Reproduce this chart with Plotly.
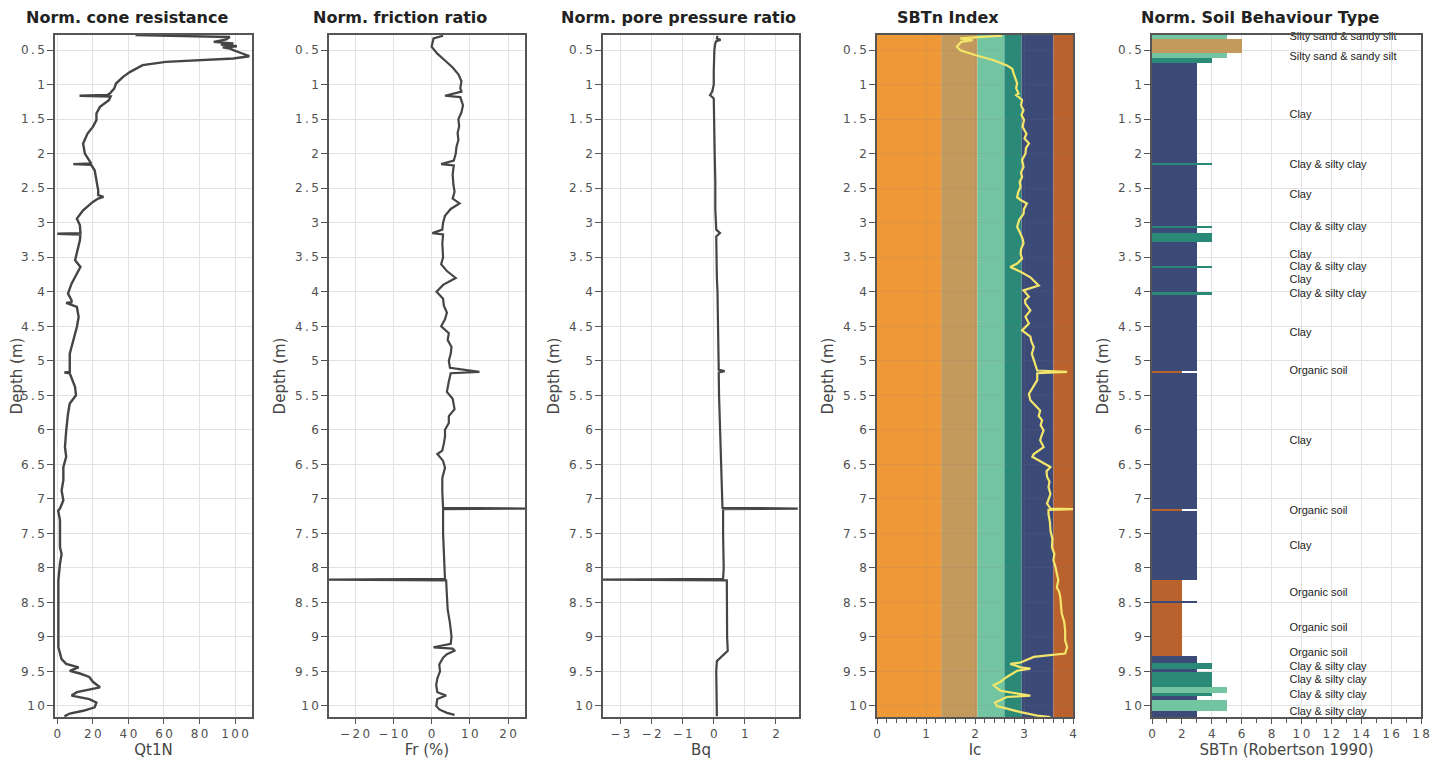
import plotly.graph_objects as go

# page body has an 8px default margin, so the figure is sized to fit the window
OFF = 8
FW, FH = 1447 - OFF, 766 - OFF

# ---------------- data ----------------
qt_depth = [0.28, 0.31, 0.345, 0.38, 0.403, 0.42, 0.442, 0.46, 0.476, 0.5, 0.548, 0.587, 0.621, 0.645,
            0.669, 0.717, 0.766, 0.814, 0.886, 0.983, 1.056, 1.128, 1.15, 1.16, 1.17, 1.225, 1.321, 1.418,
            1.514, 1.611, 1.708, 1.853, 1.998, 2.094, 2.14, 2.15, 2.16, 2.239, 2.384, 2.529, 2.60, 2.626,
            2.65, 2.698, 2.819, 2.94, 3.036, 3.15, 3.16, 3.17, 3.254, 3.447, 3.543, 3.64, 3.737, 3.882,
            4.027, 4.123, 4.15, 4.16, 4.22, 4.365, 4.51, 4.703, 4.896, 5.089, 5.16, 5.17, 5.18, 5.38,
            5.50, 5.62, 5.77, 6.01, 6.25, 6.39, 6.54, 6.73, 6.88, 7.02, 7.14, 7.17, 7.31, 7.70, 7.80,
            7.94, 8.18, 8.66, 9.05, 9.15, 9.32, 9.39, 9.44, 9.49, 9.53, 9.58, 9.65, 9.73, 9.80, 9.85,
            9.90, 9.95, 10.02, 10.07, 10.11, 10.15]
qt_value = [44, 97, 95, 88, 99, 92, 101, 93, 97, 99, 104, 108, 99, 80,
            61, 48, 44, 41, 37, 33, 32, 29.5, 28, 12.5, 30, 29, 24, 22,
            22, 20, 17, 14.5, 15.5, 18, 19, 9, 19, 21, 22, 23, 23, 26,
            23, 20, 14.5, 11, 12.7, 13, 0, 13, 12.7, 11, 10, 13, 11, 8,
            6, 8, 8, 5, 11, 12, 11, 9, 7, 7, 7, 4, 7, 10,
            10.5, 7, 6, 5, 4.3, 5, 3.4, 3.4, 2.4, 3.4, 1.5, 0.5, 1.5, 1.5, 2.4,
            1.5, 0.6, 0.6, 0.3, 0.6, 2.4, 5, 12, 7, 12.7, 18, 20, 24, 11, 8,
            18, 22, 21, 14.6, 7, 4]

fr_depth = [0.29, 0.33, 0.45, 0.55, 0.65, 0.75, 0.85, 0.95, 1.05, 1.1, 1.16, 1.18, 1.3, 1.4, 1.5, 1.6,
            1.7, 1.8, 1.9, 2.0, 2.1, 2.15, 2.17, 2.3, 2.45, 2.55, 2.65, 2.72, 2.8, 2.9, 3.0, 3.1, 3.15,
            3.17, 3.3, 3.5, 3.6, 3.7, 3.8, 3.9, 4.0, 4.1, 4.2, 4.3, 4.4, 4.5, 4.6, 4.7, 4.8, 4.9, 5.0,
            5.1, 5.16, 5.18, 5.3, 5.45, 5.55, 5.7, 5.8, 5.9, 6.0, 6.1, 6.2, 6.3, 6.35, 6.45, 6.55, 6.7,
            6.9, 7.13, 7.14, 7.15, 7.5, 7.8, 8.0, 8.16, 8.17, 8.18, 8.4, 8.6, 8.8, 9.0, 9.1, 9.15, 9.17,
            9.2, 9.25, 9.3, 9.4, 9.5, 9.6, 9.7, 9.8, 9.85, 9.9, 10.0, 10.05, 10.1, 10.13]
fr_value = [3, 0.5, 0, 1.5, 3.5, 5.5, 7, 7.8, 7.5, 7.8, 3.5, 7.5, 8.2, 7.8, 7, 7.2,
            6.8, 7, 6.5, 6.3, 5.8, 2.5, 5.8, 5.5, 5.7, 6, 5.5, 7.3, 5, 3.5, 3, 2.8, 0.2,
            3, 2.8, 3, 2.5, 4, 6.3, 3, 1.3, 3, 3.2, 4, 3.5, 2.5, 4.5, 4.2, 5.2, 5, 4.5,
            4.8, 12.5, 5, 4.5, 4, 5.5, 6, 4.5, 4.5, 3.5, 3.5, 3.2, 2.8, 1.5, 3.0, 3.5, 2.8,
            2.8, 3.0, 24.5, 3, 3.0, 3.2, 3.3, 3.5, -27, 3.8, 4, 4.2, 4.8, 5.2, 5, 0.5, 5.5,
            6.0, 4, 3.0, 2.0, 2.2, 1.5, 1.2, 1.5, 3.8, 1.5, 1.2, 2.0, 4.0, 6.0]

bq_depth = [0.29, 0.33, 0.35, 0.37, 0.4, 0.5, 0.8, 1.0, 1.1, 1.15, 1.2, 1.5, 2.0, 2.4, 2.8, 3.1, 3.15,
            3.2, 3.6, 3.8, 4.0, 4.5, 5.0, 5.13, 5.15, 5.17, 5.5, 6.0, 6.3, 6.5, 7.0, 7.13, 7.14, 7.15,
            7.5, 8.0, 8.16, 8.17, 8.18, 8.5, 9.0, 9.2, 9.3, 9.35, 9.5, 10.0, 10.15]
bq_value = [0.12, 0.1, 0.22, 0.08, 0.05, 0.02, 0.0, 0.0, -0.05, -0.12, 0.0, 0.02, 0.03, 0.05, 0.05, 0.08, 0.2,
            0.08, 0.08, 0.1, 0.12, 0.14, 0.16, 0.16, 0.35, 0.16, 0.17, 0.2, 0.22, 0.25, 0.28, 0.28, 2.7, 0.3,
            0.3, 0.32, 0.3, -3.6, 0.42, 0.42, 0.43, 0.45, 0.2, 0.1, 0.08, 0.08, 0.1]

ic_depth = [0.29, 0.33, 0.355, 0.38, 0.45, 0.5, 0.57, 0.645, 0.72, 0.77, 0.84, 0.91, 0.98, 1.05, 1.13,
            1.15, 1.22, 1.30, 1.37, 1.44, 1.51, 1.61, 1.71, 1.78, 1.85, 1.92, 2.0, 2.09, 2.19, 2.27, 2.34,
            2.41, 2.48, 2.56, 2.63, 2.67, 2.72, 2.80, 2.87, 2.96, 3.06, 3.16, 3.23, 3.30, 3.38, 3.45,
            3.52, 3.59, 3.64, 3.71, 3.79, 3.91, 3.98, 4.07, 4.12, 4.17, 4.22, 4.27, 4.36, 4.46, 4.56,
            4.65, 4.72, 4.80, 4.90, 4.99, 5.07, 5.14, 5.16, 5.18, 5.28, 5.38, 5.48, 5.57, 5.64, 5.72,
            5.80, 5.86, 5.93, 6.01, 6.08, 6.15, 6.25, 6.35, 6.39, 6.49, 6.54, 6.60, 6.68, 6.75, 6.83,
            6.93, 7.00, 7.07, 7.14, 7.15, 7.16, 7.22, 7.34, 7.46, 7.58, 7.70, 7.80, 7.89, 7.98, 8.08,
            8.18, 8.28, 8.35, 8.42, 8.54, 8.66, 8.78, 8.91, 9.05, 9.15, 9.24, 9.27, 9.29, 9.37, 9.39,
            9.44, 9.46, 9.49, 9.58, 9.65, 9.70, 9.78, 9.82, 9.85, 9.87, 9.95, 10.0, 10.04, 10.09,
            10.14, 10.16]
ic_value = [2.55, 1.70, 1.95, 1.72, 1.63, 1.70, 2.0, 2.38, 2.65, 2.76, 2.79, 2.82, 2.86, 2.84, 2.89,
            2.84, 2.96, 2.94, 2.99, 2.95, 3.0, 2.97, 3.05, 3.01, 3.10, 3.04, 3.03, 2.96, 2.99, 2.94, 2.96,
            2.91, 2.93, 2.88, 2.86, 2.93, 3.06, 3.00, 2.99, 2.90, 2.86, 2.93, 2.97, 2.99, 2.94, 2.93,
            2.96, 2.86, 2.72, 2.93, 3.13, 3.30, 2.99, 3.10, 3.02, 3.03, 3.08, 3.13, 3.03, 3.10, 2.96,
            3.13, 3.15, 3.20, 3.16, 3.20, 3.24, 3.27, 3.88, 3.27, 3.27, 3.18, 3.10, 3.13, 3.22, 3.33,
            3.30, 3.37, 3.34, 3.40, 3.36, 3.33, 3.40, 3.20, 3.17, 3.40, 3.54, 3.46, 3.47, 3.52, 3.50,
            3.54, 3.50, 3.47, 3.54, 4.0, 3.50, 3.50, 3.53, 3.54, 3.58, 3.57, 3.62, 3.60, 3.64, 3.67,
            3.70, 3.67, 3.72, 3.74, 3.76, 3.77, 3.82, 3.84, 3.84, 3.88, 3.84, 3.47, 3.20, 2.93, 2.72,
            2.93, 3.13, 2.86, 2.65, 2.52, 2.38, 2.52, 2.86, 3.13, 2.65, 2.41, 2.45, 2.65, 2.93,
            3.27, 3.54]

ic_bounds = [0, 1.31, 2.05, 2.6, 2.95, 3.6, 4.0]
ic_zones = [7, 6, 5, 4, 3, 2]

sbt_top = [0.28, 0.345, 0.54, 0.61, 0.69, 2.13, 2.16, 3.04, 3.07, 3.15, 3.28, 3.62, 3.65, 4.01, 4.04,
           5.15, 5.18, 7.14, 7.17, 8.17, 8.48, 8.51, 9.27, 9.38, 9.47, 9.51, 9.72, 9.81, 9.86, 9.92, 10.08]
sbt_bottom = [0.345, 0.54, 0.61, 0.69, 2.13, 2.16, 3.04, 3.07, 3.15, 3.28, 3.62, 3.65, 4.01, 4.04, 5.15,
              5.18, 7.14, 7.17, 8.17, 8.48, 8.51, 9.27, 9.38, 9.47, 9.51, 9.72, 9.81, 9.86, 9.92, 10.08, 10.16]
sbt_zone = [5, 6, 5, 4, 3, 4, 3, 4, 3, 4, 3, 4, 3, 4, 3,
            2, 3, 2, 3, 2, 3, 2, 3, 4, 3, 4, 5, 4, 3, 5, 3]

label_text = ["Silty sand & sandy silt", "Silty sand & sandy silt", "Clay", "Clay & silty clay", "Clay",
              "Clay & silty clay", "Clay", "Clay & silty clay", "Clay", "Clay & silty clay", "Clay",
              "Organic soil", "Clay", "Organic soil", "Clay", "Organic soil", "Organic soil",
              "Organic soil", "Clay & silty clay", "Clay & silty clay", "Clay & silty clay",
              "Clay & silty clay"]
label_depth = [0.31, 0.60, 1.44, 2.16, 2.60, 3.06, 3.47, 3.64, 3.84, 4.03, 4.60, 5.15, 6.17, 7.18,
               7.68, 8.37, 8.88, 9.24, 9.44, 9.63, 9.85, 10.09]

zone_color = {2: "#B9622D", 3: "#3C4A78", 4: "#2B8A77", 5: "#72C5A0", 6: "#C49A5C", 7: "#EF9838"}

titles = ["Norm. cone resistance", "Norm. friction ratio", "Norm. pore pressure ratio",
          "SBTn Index", "Norm. Soil Behaviour Type"]
xtitles = ["Qt1N", "Fr (%)", "Bq", "Ic", "SBTn (Robertson 1990)"]

x_tickvals = [[0, 20, 40, 60, 80, 100], [-20, -10, 0, 10, 20], [-3, -2, -1, 0, 1, 2],
              [0, 1, 2, 3, 4], [0, 2, 4, 6, 8, 10, 12, 14, 16, 18]]
y_tickvals = [0.5, 1, 1.5, 2, 2.5, 3, 3.5, 4, 4.5, 5, 5.5, 6, 6.5, 7, 7.5, 8, 8.5, 9, 9.5, 10]

# ---------------- layout geometry (reference pixels) ----------------
px_dom = [(55, 252), (329, 525), (603, 799), (877, 1073), (1152, 1421)]
title_cx = [127, 400, 678, 948, 1260]
xranges = [[-1.3, 109.5], [-26.8, 24.4], [-3.56, 2.74], [0, 4], [0, 18]]
plot_top, plot_bottom = 35, 717
yrange = [10.16, 0.28]


def fx(p):
    return (p - OFF) / FW


def fy(p):
    return 1 - (p - OFF) / FH


def spaced(v):
    s = ("%g" % v).replace("-", "\u2212")
    return "\u2009".join(s)


fig = go.Figure()
line_col = "#454545"

fig.add_trace(go.Scatter(x=qt_value, y=qt_depth, mode="lines", line=dict(color=line_col, width=2.4),
                         xaxis="x", yaxis="y", showlegend=False))
fig.add_trace(go.Scatter(x=fr_value, y=fr_depth, mode="lines", line=dict(color=line_col, width=2.2),
                         xaxis="x2", yaxis="y2", showlegend=False))
fig.add_trace(go.Scatter(x=bq_value, y=bq_depth, mode="lines", line=dict(color=line_col, width=2.2),
                         xaxis="x3", yaxis="y3", showlegend=False))
fig.add_trace(go.Scatter(x=ic_value, y=ic_depth, mode="lines", line=dict(color="#F3E66B", width=2.2),
                         xaxis="x4", yaxis="y4", showlegend=False))

# SBTn bars
mid = [(a + b) / 2 for a, b in zip(sbt_top, sbt_bottom)]
thick = [b - a for a, b in zip(sbt_top, sbt_bottom)]
fig.add_trace(go.Bar(x=sbt_zone, y=mid, width=thick, orientation="h",
                     marker=dict(color=[zone_color[z] for z in sbt_zone], line=dict(width=0)),
                     xaxis="x5", yaxis="y5", showlegend=False))
fig.add_trace(go.Scatter(x=[9.2] * len(label_depth), y=label_depth, mode="text", text=label_text,
                         textposition="middle right", cliponaxis=False,
                         textfont=dict(family="Liberation Sans Narrow, Liberation Sans", size=11,
                                       color="#222"),
                         xaxis="x5", yaxis="y5", showlegend=False))

# Ic background bands
shapes = []
for i, z in enumerate(ic_zones):
    shapes.append(dict(type="rect", xref="x4", yref="y4", x0=ic_bounds[i], x1=ic_bounds[i + 1],
                       y0=yrange[0], y1=yrange[1], fillcolor=zone_color[z], line=dict(width=0),
                       layer="below"))

tickfont = dict(family="DejaVu Sans", size=12, color="#505050")
axtitlefont = dict(family="DejaVu Sans", size=15, color="#454545")
layout = dict(width=FW, height=FH, autosize=False, margin=dict(l=0, r=0, t=0, b=0, pad=0),
              paper_bgcolor="white", plot_bgcolor="white", bargap=0, barmode="overlay",
              shapes=shapes, annotations=[])

for i in range(5):
    n = "" if i == 0 else str(i + 1)
    x0, x1 = px_dom[i]
    xa = dict(domain=[fx(x0), fx(x1)], range=xranges[i],
              tickmode="array", tickvals=x_tickvals[i], ticktext=[spaced(v) for v in x_tickvals[i]],
              anchor="y" + n, showgrid=True, gridcolor="#e2e2e2", zeroline=False,
              showline=True, linecolor="#555", linewidth=1.5, mirror=True,
              ticks="outside", ticklen=5, tickcolor="#555", tickfont=tickfont, automargin=False,
              title=dict(text=xtitles[i], font=axtitlefont, standoff=3))
    if i == 3:
        xa["minor"] = dict(dtick=0.2, tick0=0, ticks="outside", ticklen=4, tickcolor="#555",
                           showgrid=False)
        xa["gridcolor"] = "rgba(120,120,120,0.15)"
    if i == 4:
        xa["minor"] = dict(dtick=1, tick0=0, ticks="outside", ticklen=4, tickcolor="#555",
                           showgrid=False)
    ya = dict(domain=[fy(plot_bottom), fy(plot_top)], range=yrange,
              tickmode="array", tickvals=y_tickvals, ticktext=[spaced(v) for v in y_tickvals],
              anchor="x" + n, showgrid=True, gridcolor="#e2e2e2", zeroline=False,
              showline=True, linecolor="#555", linewidth=1.5, mirror=True,
              ticks="outside", ticklen=6, tickcolor="#555", tickfont=tickfont, automargin=False,
              title=dict(text="Depth (m)", font=axtitlefont, standoff=6))
    if i == 3:
        ya["gridcolor"] = "rgba(120,120,120,0.15)"
    layout["xaxis" + n] = xa
    layout["yaxis" + n] = ya
    layout["annotations"].append(dict(text="<b>" + titles[i] + "</b>", xref="paper", yref="paper",
                                      x=fx(title_cx[i]), y=fy(18), showarrow=False,
                                      xanchor="center", yanchor="middle",
                                      font=dict(family="DejaVu Sans", size=16, color="#222")))

fig.update_layout(**layout)
fig.write_html("out.html")
